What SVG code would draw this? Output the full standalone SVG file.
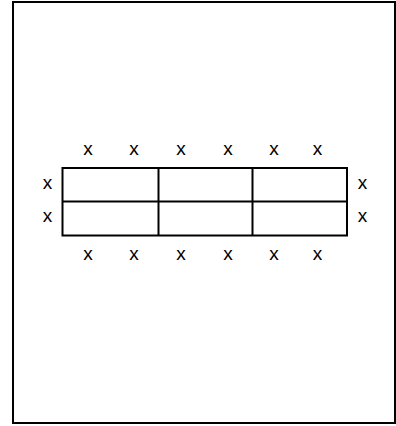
<svg xmlns="http://www.w3.org/2000/svg" width="396" height="426" viewBox="0 0 396 426">
<style>
.b{fill:none;stroke:#000;stroke-width:2}
.t{fill:none;stroke:#000;stroke-width:2}
.x{font-family:"Liberation Sans",Arial,sans-serif;font-size:19px;fill:#000;text-anchor:middle}
</style>
<rect width="396" height="426" fill="#fff"/>
<rect class="b" x="13" y="2" width="382" height="421"/>
<g id="table">
<rect class="t" x="62.5" y="168" width="284.5" height="67.5"/>
<line class="t" x1="62.5" y1="201.5" x2="347" y2="201.5"/>
<line class="t" x1="158.5" y1="168" x2="158.5" y2="235.5"/>
<line class="t" x1="252.5" y1="168" x2="252.5" y2="235.5"/>
</g>
<g id="top-labels">
<text class="x" x="88" y="154.5">x</text>
<text class="x" x="134" y="154.5">x</text>
<text class="x" x="181" y="154.5">x</text>
<text class="x" x="228" y="154.5">x</text>
<text class="x" x="274" y="154.5">x</text>
<text class="x" x="317.5" y="154.5">x</text>
</g>
<g id="bottom-labels">
<text class="x" x="88" y="259.5">x</text>
<text class="x" x="134" y="259.5">x</text>
<text class="x" x="181" y="259.5">x</text>
<text class="x" x="228" y="259.5">x</text>
<text class="x" x="274" y="259.5">x</text>
<text class="x" x="317.5" y="259.5">x</text>
</g>
<g id="left-labels">
<text class="x" x="47.5" y="188.5">x</text>
<text class="x" x="47.5" y="222">x</text>
</g>
<g id="right-labels">
<text class="x" x="362.5" y="188.5">x</text>
<text class="x" x="362.5" y="222">x</text>
</g>
</svg>
